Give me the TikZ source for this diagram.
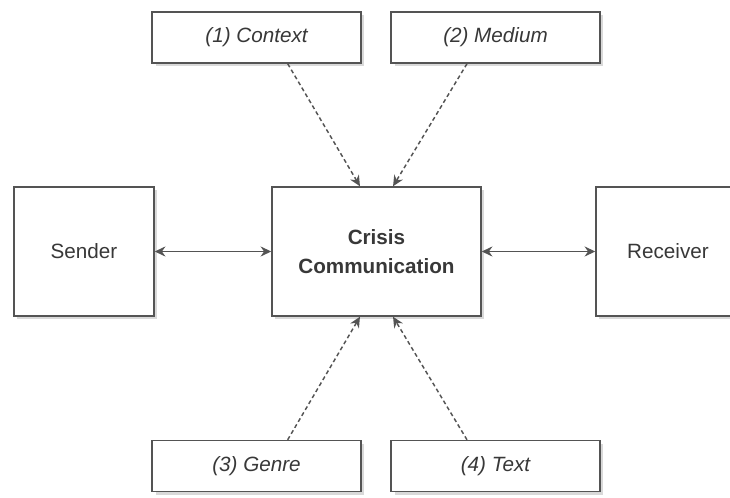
\documentclass[tikz,border=0pt]{standalone}
\usepackage{fontspec}
\setmainfont{Liberation Sans}
\usepackage{tikz}
\usetikzlibrary{arrows.meta}
\usetikzlibrary{shadows}
\definecolor{ln}{rgb}{.33,.33,.33}
\definecolor{tx}{rgb}{.22,.22,.22}
\definecolor{sh}{rgb}{.85,.85,.85}
\tikzstyle{box}=[draw=ln, line width=1.1pt, fill=white, text=tx, align=center,
  font=\fontsize{15.5}{21.5}\selectfont,
  drop shadow={shadow xshift=2.5pt, shadow yshift=-2.5pt, fill=sh, opacity=1}]
\tikzstyle{bigbox}=[box, minimum width=105pt, minimum height=96.75pt]
\tikzstyle{facet}=[box, minimum width=156.5pt, minimum height=38.25pt, font=\fontsize{15.5}{21.5}\selectfont\itshape]
\tikzstyle{flow}=[draw=ln, line width=1.1pt, {Stealth[length=8pt,width=7.5pt]}-{Stealth[length=8pt,width=7.5pt]}]
\tikzstyle{feed}=[draw=ln, line width=1.1pt, dash pattern=on 3pt off 2.2pt, -{Stealth[length=8pt,width=7.5pt]}]

\begin{document}
\begin{tikzpicture}[x=.75pt, y=-.75pt]

      \useasboundingbox (0,0) rectangle (730,498);
      \clip (0,0) rectangle (730,498);

      \node[bigbox] (sender) at (84,251.5) {Sender};
      \node[bigbox, minimum width=156.75pt, font=\fontsize{15.5}{21.5}\selectfont\bfseries] (crisis) at (376.5,251.5) {Crisis\\Communication};
      \node[bigbox, minimum width=108pt] (receiver) at (668,251.5) {Receiver};

      \node[facet] (context) at (256.5,37.5) {(1) Context};
      \node[facet] (medium) at (495.5,37.5) {(2) Medium};
      \node[facet] (genre) at (256.5,466) {(3) Genre};
      \node[facet] (text) at (495.5,466) {(4) Text};

      \draw[flow] (sender.east) -- (crisis.west);
      \draw[flow] (crisis.east) -- (receiver.west);

      % facets into the middle
      \draw[feed] ([xshift=23.4pt]context.south) -- ([xshift=-12.4pt]crisis.north);
      \draw[feed] ([xshift=-21.4pt]medium.south) -- ([xshift=12.4pt]crisis.north);
      \draw[feed] ([xshift=23.4pt]genre.north) -- ([xshift=-12.4pt]crisis.south);
      \draw[feed] ([xshift=-21.4pt]text.north) -- ([xshift=12.4pt]crisis.south);

\end{tikzpicture}
\end{document}
